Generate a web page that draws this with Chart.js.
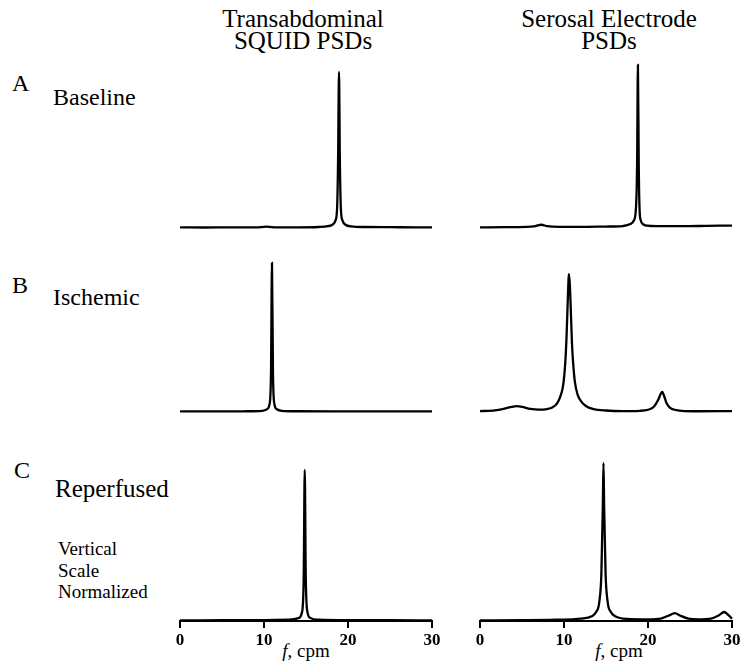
<!DOCTYPE html>
<html>
<head>
<meta charset="utf-8">
<title>SQUID vs serosal electrode PSDs</title>
<script src="https://cdn.jsdelivr.net/npm/chart.js@4.4.1/dist/chart.umd.min.js"></script>
<style>
  html, body { margin: 0; padding: 0; background: #fff; }
  #figure {
    position: relative;
    width: 750px;
    height: 670px;
    font-family: "Liberation Serif", "Times New Roman", "DejaVu Serif", serif;
    color: #000;
  }
  #figure canvas { position: absolute; }
  .txt { position: absolute; white-space: nowrap; line-height: 1; }
  .title { width: 300px; text-align: center; font-size: 25px; }
  .letter { font-size: 24px; }
  .cond { font-size: 24px; }
  .note { font-size: 19px; }
  .axis-title { width: 120px; text-align: center; font-size: 19px; }
</style>
</head>
<body>
<div id="figure">
  <div class="txt title" style="left:153px;top:6px;">Transabdominal</div>
  <div class="txt title" style="left:153px;top:28px;">SQUID PSDs</div>
  <div class="txt title" style="left:459px;top:6px;">Serosal Electrode</div>
  <div class="txt title" style="left:459px;top:28px;">PSDs</div>

  <div class="txt letter" style="left:12px;top:71px;">A</div>
  <div class="txt cond" style="left:53px;top:85px;">Baseline</div>
  <div class="txt letter" style="left:12px;top:273px;">B</div>
  <div class="txt cond" style="left:53px;top:285px;">Ischemic</div>
  <div class="txt letter" style="left:14px;top:458px;">C</div>
  <div class="txt cond" style="left:55px;top:476px;font-size:25px;">Reperfused</div>

  <div class="txt note" style="left:58px;top:539px;">Vertical</div>
  <div class="txt note" style="left:58px;top:561px;">Scale</div>
  <div class="txt note" style="left:58px;top:582px;">Normalized</div>

  <div class="txt axis-title" style="left:246px;top:641px;"><i>f</i>, cpm</div>
  <div class="txt axis-title" style="left:559px;top:641px;"><i>f</i>, cpm</div>

  <canvas id="squidBaseline" width="276" height="171" style="left:168px;top:61px;"></canvas>
  <canvas id="serosalBaseline" width="276" height="171" style="left:468px;top:61px;"></canvas>
  <canvas id="squidIschemic" width="276" height="157" style="left:168px;top:259px;"></canvas>
  <canvas id="serosalIschemic" width="276" height="157" style="left:468px;top:259px;"></canvas>
  <canvas id="squidReperfused" width="276" height="202" style="left:168px;top:459px;"></canvas>
  <canvas id="serosalReperfused" width="276" height="202" style="left:468px;top:459px;"></canvas>
</div>

<script>
// frequency ticks (cpm)
const freqTicks = [0, 10, 20, 30];

// A - Baseline
const squidBaselineFreq = [0, 3, 6, 9, 10.3, 11.5, 14, 16.5, 17.6, 18.2, 18.5, 18.7, 18.82, 18.93, 19.03, 19.15, 19.35, 19.7, 20.4, 22, 25, 28, 30];
const squidBaselinePsd = [0.004, 0.003, 0.004, 0.004, 0.008, 0.004, 0.004, 0.006, 0.011, 0.022, 0.045, 0.12, 0.42, 0.957, 0.42, 0.12, 0.045, 0.02, 0.01, 0.006, 0.005, 0.004, 0.004];
const serosalBaselineFreq = [0, 3, 5.5, 6.6, 7.3, 8, 9.5, 12, 15, 17, 17.9, 18.3, 18.55, 18.7, 18.8, 18.9, 19.0, 19.15, 19.4, 19.9, 21, 24, 27, 30];
const serosalBaselinePsd = [0.004, 0.005, 0.007, 0.012, 0.02, 0.011, 0.007, 0.007, 0.009, 0.012, 0.024, 0.045, 0.11, 0.38, 1.0, 0.38, 0.11, 0.045, 0.024, 0.014, 0.011, 0.011, 0.013, 0.015];

// B - Ischemic
const squidIschemicFreq = [0, 4, 8, 9.8, 10.4, 10.65, 10.83, 10.95, 11.07, 11.25, 11.5, 12.1, 14, 18, 22, 26, 30];
const squidIschemicPsd = [0.004, 0.004, 0.005, 0.008, 0.02, 0.05, 0.25, 1.0, 0.25, 0.05, 0.02, 0.008, 0.005, 0.004, 0.004, 0.004, 0.004];
const serosalIschemicFreq = [0, 1, 2, 3, 3.8, 4.4, 5, 6, 7, 8, 8.6, 9.2, 9.6, 9.9, 10.15, 10.3, 10.45, 10.55, 10.6, 10.7, 10.8, 10.95, 11.1, 11.3, 11.6, 12, 12.6, 13.5, 15, 17, 19, 20, 20.7, 21.2, 21.5, 21.7, 21.9, 22.2, 22.6, 23.2, 24, 26, 30];
const serosalIschemicPsd = [0.006, 0.008, 0.013, 0.024, 0.035, 0.039, 0.034, 0.021, 0.016, 0.02, 0.03, 0.06, 0.11, 0.18, 0.33, 0.5, 0.75, 0.9, 0.926, 0.85, 0.7, 0.46, 0.32, 0.2, 0.12, 0.075, 0.04, 0.02, 0.01, 0.006, 0.008, 0.015, 0.035, 0.08, 0.12, 0.135, 0.11, 0.06, 0.03, 0.015, 0.008, 0.005, 0.006];

// C - Reperfused
const squidReperfusedFreq = [0, 5, 10, 13, 14.2, 14.5, 14.72, 14.85, 14.98, 15.2, 15.5, 16.5, 20, 25, 30];
const squidReperfusedPsd = [0.004, 0.005, 0.006, 0.008, 0.02, 0.05, 0.25, 0.956, 0.25, 0.05, 0.02, 0.008, 0.005, 0.005, 0.004];
const serosalReperfusedFreq = [0, 5, 9, 12, 13.3, 13.8, 14.2, 14.45, 14.62, 14.7, 14.78, 14.95, 15.2, 15.6, 16.1, 17.5, 20, 21.5, 22.5, 23.2, 23.8, 24.8, 26, 27.5, 28.4, 29.1, 29.6, 30];
const serosalReperfusedPsd = [0.004, 0.005, 0.008, 0.015, 0.03, 0.055, 0.12, 0.3, 0.72, 1.0, 0.72, 0.3, 0.12, 0.055, 0.03, 0.013, 0.01, 0.015, 0.035, 0.05, 0.035, 0.015, 0.01, 0.015, 0.035, 0.057, 0.035, 0.015];

(function () {
  "use strict";

  const FONT = '"Liberation Serif", "Times New Roman", "DejaVu Serif", serif';

  function makePanel(id, freqs, psd, showAxis) {
    const ctx = document.getElementById(id);
    if (!ctx) return null;

    const xScale = {
      type: "linear",
      min: 0,
      max: 30,
      display: showAxis,
    };

    // only the bottom row carries a frequency axis
    if (showAxis) {
      Object.assign(xScale, {
        afterFit: (scale) => { scale.height = 40; },
        afterBuildTicks: (scale) => {
          scale.ticks = freqTicks.map((v) => ({ value: v }));
        },
        border: { display: true, color: "#000", width: 2 },
        grid: {
          display: true,
          drawOnChartArea: false,
          drawTicks: true,
          tickLength: 7,
          color: "#000",
          lineWidth: 2,
        },
        ticks: {
          color: "#000",
          padding: 2,
          maxRotation: 0,
          font: { family: FONT, size: 17, weight: "bold" },
        },
      });
    }

    return new Chart(ctx, {
      type: "line",
      data: {
        datasets: [
          {
            data: freqs.map((f, i) => ({ x: f, y: psd[i] })),
            borderColor: "#000",
            borderWidth: 2.3,
            pointRadius: 0,
            fill: false,
            cubicInterpolationMode: "monotone",
            clip: false,
          },
        ],
      },
      options: {
        responsive: false,
        devicePixelRatio: 1,
        animation: false,
        layout: { padding: { left: 12, right: 12, top: 4, bottom: showAxis ? 0 : 4 } },
        plugins: {
          legend: { display: false },
          tooltip: { enabled: false },
        },
        scales: {
          x: xScale,
          y: { min: 0, max: 1, display: false },
        },
      },
    });
  }

  makePanel("squidBaseline", squidBaselineFreq, squidBaselinePsd, false);
  makePanel("serosalBaseline", serosalBaselineFreq, serosalBaselinePsd, false);
  makePanel("squidIschemic", squidIschemicFreq, squidIschemicPsd, false);
  makePanel("serosalIschemic", serosalIschemicFreq, serosalIschemicPsd, false);
  makePanel("squidReperfused", squidReperfusedFreq, squidReperfusedPsd, true);
  makePanel("serosalReperfused", serosalReperfusedFreq, serosalReperfusedPsd, true);
})();
</script>
</body>
</html>
